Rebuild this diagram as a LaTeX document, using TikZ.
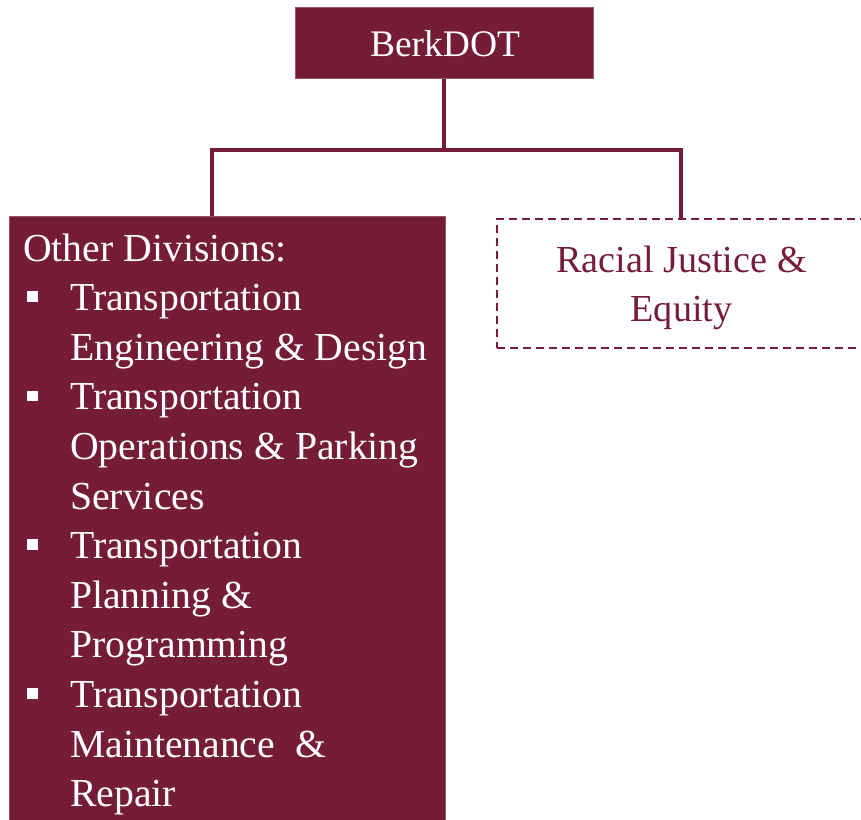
\documentclass[tikz,border=0pt]{standalone}
\usepackage{fontspec}
\setmainfont{Liberation Serif}
\definecolor{berkred}{RGB}{117,29,54}
% square bullet and hanging indent for the division list
\newcommand{\sqbul}{\makebox[47pt][l]{\hspace{4pt}\rule[8.8pt]{10.5pt}{10.5pt}}}
\newcommand{\hang}{\hspace*{47pt}}
\begin{document}
\begin{tikzpicture}[x=1pt,y=-1pt,
  solidbox/.style={rectangle, fill=berkred, draw=berkred!75!white, line width=0.8pt,
                   inner sep=0pt, anchor=north west},
  dashbox/.style={rectangle, draw=berkred, line width=1.8pt, dash pattern=on 8pt off 5pt,
                  inner sep=0pt, anchor=north west},
  conn/.style={draw=berkred, line width=4pt}]
\useasboundingbox (0,0) rectangle (861,819);

% top unit
\node[solidbox, minimum width=298pt, minimum height=71pt] (berk) at (295,7) {};
\node[inner sep=0pt, text=white, font=\fontsize{37.5}{45}\selectfont, anchor=base] (berktext) at (445,56.5) {BerkDOT};

% other divisions
\node[solidbox, minimum width=436pt, minimum height=620pt] (other) at (9,216) {};
\node[inner sep=0pt, text=white, anchor=base west] (divlist) at (23,261)
  {\parbox[t]{420pt}{\fontsize{39.7}{49.6}\selectfont\raggedright
    Other Divisions:\\
    \sqbul Transportation\\
    \hang Engineering \& Design\\
    \sqbul Transportation\\
    \hang Operations \& Parking\\
    \hang Services\\
    \sqbul Transportation\\
    \hang Planning \&\\
    \hang Programming\\
    \sqbul Transportation\\
    \hang Maintenance\ \ \&\\
    \hang Repair}};

% racial justice & equity
\node[dashbox, minimum width=368pt, minimum height=129pt] (rje) at (496,218) {};
\node[inner sep=0pt, text=berkred, anchor=base] (rjetext) at (681.5,272.7)
  {\parbox[t]{360pt}{\centering\fontsize{38.2}{49}\selectfont Racial Justice \&\\ Equity}};

% connectors
\coordinate (ltap) at ([xshift=203pt]other.north west);
\draw[conn] (berk.south) -- ++(0,71) coordinate (bus);
\draw[conn] (ltap) |- (bus) -| (rje.north);
\end{tikzpicture}
\end{document}
